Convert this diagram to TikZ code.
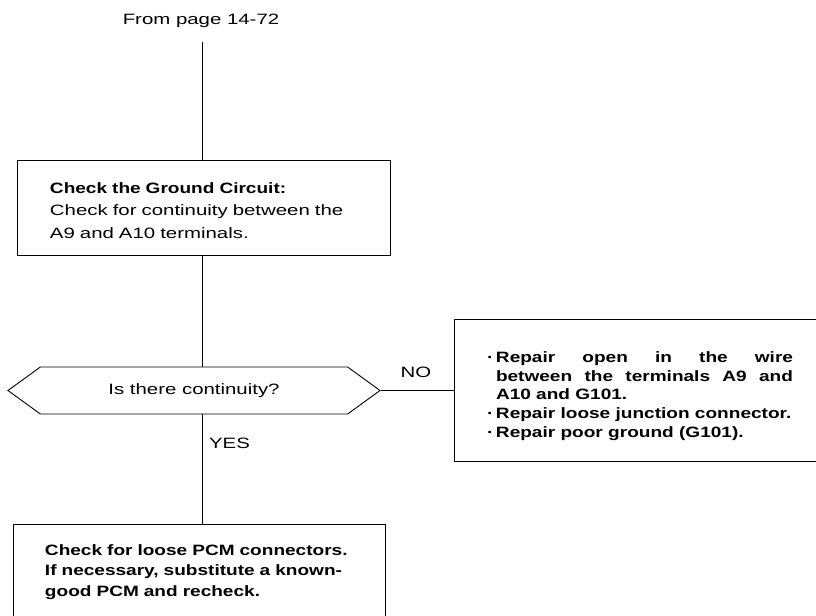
\documentclass[tikz,border=0pt]{standalone}
\usepackage{fontspec}
\setmainfont{Liberation Sans}[FakeStretch=1.36,BoldFeatures={FakeStretch=1.27}]
\usetikzlibrary{shapes.symbols}

\begin{document}
\begin{tikzpicture}
[x=1bp,y=-1bp,
  lineDecorate/.style={-,line width=0.9bp},%
  boxDecorate/.style={shape=rectangle,draw,line width=0.9bp,inner sep=0pt},
  textDecorate/.style={inner sep=0pt,font=\fontsize{15bp}{22.5bp}\selectfont},
  decisionDecorate/.style={shape=signal,signal to=west and east,signal pointer angle=72,
    draw,line width=0.9bp,inner sep=0pt,minimum width=372bp,minimum height=47bp}]
\useasboundingbox (0,0) rectangle (816,616);
%% nodes or boxes
\node (frompage) at (201,21) [textDecorate] {From page 14-72};
\coordinate (start) at (202,42);
\node (ground) at (203.5,207.5) [boxDecorate,minimum width=373bp,minimum height=95bp] {};
\node (groundtext) at (204,210.5) [textDecorate,text width=308bp,align=left]
  {\textbf{Check the Ground Circuit:}\\ Check for continuity between the\\ A9 and A10 terminals.};
\node (continuity) at (194,390.5) [decisionDecorate,textDecorate] {\raisebox{-2bp}{Is there continuity?}};
\node (repair) at (637.5,390) [boxDecorate,minimum width=367bp,minimum height=142bp] {};
\node (repairtext) at (640,396) [textDecorate,text width=306bp,align=justify,
  font=\fontsize{15bp}{18.8bp}\selectfont\bfseries]
  {\hangindent=9bp\hangafter=1\makebox[9bp][l]{\textperiodcentered}Repair open in the wire\linebreak
   between the terminals A9 and\linebreak A10 and G101.\par
   \makebox[9bp][l]{\textperiodcentered}Repair loose junction connector.\par
   \makebox[9bp][l]{\textperiodcentered}Repair poor ground (G101).};
\node (pcm) at (199,572) [boxDecorate,textDecorate,minimum width=372bp,minimum height=96bp,
  text width=308bp,align=left,font=\fontsize{15bp}{20.5bp}\selectfont\bfseries]
  {Check for loose PCM connectors.\\ If necessary, substitute a known-\\ good PCM and recheck.};
\node (no) at (416,372) [textDecorate] {NO};
\node (yes) at (229.5,443) [textDecorate] {YES};
%% edges or lines
\draw[lineDecorate] (start) -- (ground.north -| start);
\draw[lineDecorate] (ground.south -| start) -- (continuity.north -| start);
\draw[lineDecorate] (continuity.south -| start) -- (pcm.north -| start);
\draw[lineDecorate] (continuity.east) -- (continuity.east -| repair.west);
\end{tikzpicture}
\end{document}
